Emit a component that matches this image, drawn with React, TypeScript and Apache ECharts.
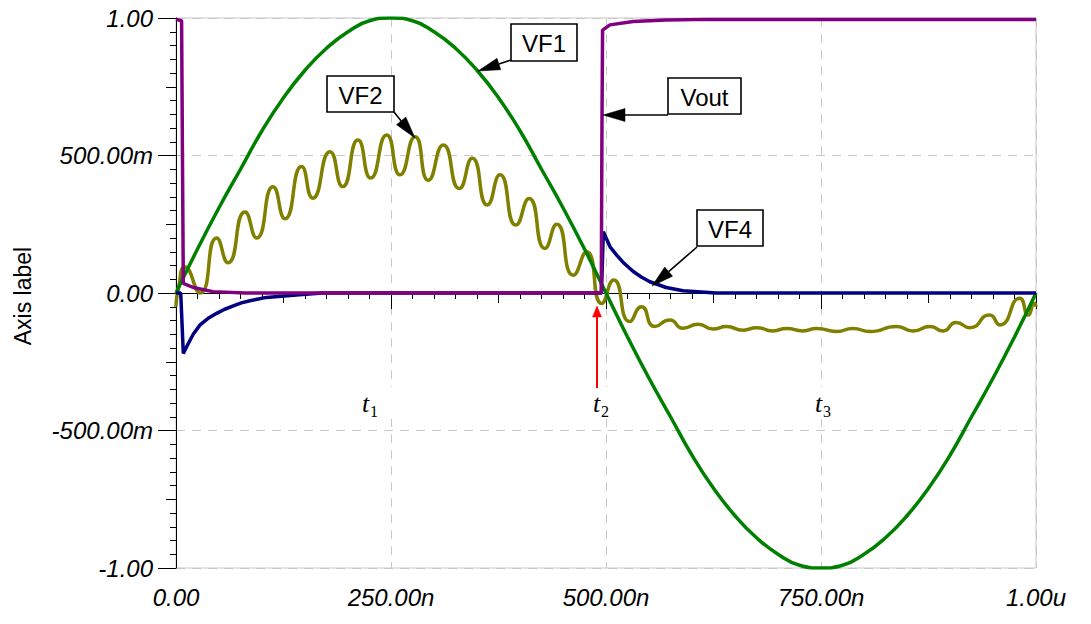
import React, { useEffect, useRef } from "react";
import * as echarts from "echarts";

// ---- tick labels ----
const xTickLabels = ["0.00", "250.00n", "500.00n", "750.00n", "1.00u"];
const yTickLabels = ["-1.00", "-500.00m", "0.00", "500.00m", "1.00"];

// ---- series data (time in ns, value in V) ----
const vf1Time = [0, 25, 50, 75, 100, 125, 150, 175, 200, 225, 250, 275, 300, 325, 350, 375, 400, 425, 450, 475, 500, 525, 550, 575, 600, 625, 650, 675, 700, 725, 750, 775, 800, 825, 850, 875, 900, 925, 950, 975, 1000];
const vf1Values = [0, 0.16, 0.31, 0.45, 0.59, 0.71, 0.81, 0.89, 0.95, 0.99, 1.0, 0.99, 0.95, 0.89, 0.81, 0.71, 0.59, 0.45, 0.31, 0.16, 0.0, -0.16, -0.31, -0.45, -0.59, -0.71, -0.81, -0.89, -0.95, -0.99, -1.0, -0.99, -0.95, -0.89, -0.81, -0.71, -0.59, -0.45, -0.31, -0.16, 0.0];

const vf2Time = [0, 3, 10.5, 28, 47.3, 60.5, 80.2, 93.8, 112.8, 126.7, 146, 159, 179, 193.8, 211.6, 226.4, 245, 260.5, 278, 293.4, 310.8, 329.4, 344.5, 362, 376.7, 395.3, 410.5, 429, 442.7, 462, 477.5, 495, 509, 527.6, 541.2, 556.7, 574, 589.6, 607, 624.5, 640, 659.5, 675, 694, 710, 729, 745, 768, 787, 807, 838, 857, 877, 892, 907, 923, 946, 958, 981, 991, 998, 1000];
const vf2Values = [-0.05, 0.02, 0.095, 0.0, 0.2, 0.11, 0.295, 0.2, 0.386, 0.27, 0.46, 0.345, 0.514, 0.387, 0.556, 0.418, 0.575, 0.43, 0.568, 0.41, 0.538, 0.38, 0.49, 0.32, 0.43, 0.247, 0.344, 0.162, 0.25, 0.065, 0.15, -0.038, 0.047, -0.104, -0.05, -0.122, -0.098, -0.128, -0.114, -0.131, -0.122, -0.135, -0.126, -0.138, -0.129, -0.138, -0.129, -0.14, -0.129, -0.14, -0.122, -0.138, -0.122, -0.138, -0.107, -0.126, -0.08, -0.116, -0.019, -0.08, -0.037, -0.05];

const vf4Time = [0, 5.5, 8.5, 12.4, 20, 28, 37, 47.3, 56, 66.6, 76, 86, 105, 140, 170, 494.7, 496.9, 504.7, 512.4, 521, 531.7, 541, 551, 570, 589.6, 628, 1000];
const vf4Values = [0, 0, -0.22, -0.195, -0.15, -0.116, -0.093, -0.074, -0.06, -0.047, -0.036, -0.028, -0.016, -0.007, 0, 0, 0.223, 0.168, 0.138, 0.108, 0.078, 0.058, 0.041, 0.02, 0.008, 0, 0];

const voutTime = [0, 6.5, 7.5, 8.5, 20, 43, 80, 494.5, 495.3, 496, 504.6, 531.5, 570, 620, 1000];
const voutValues = [0.995, 0.99, 0.5, 0.035, 0.02, 0.005, 0, 0, 0.6, 0.956, 0.975, 0.987, 0.993, 0.995, 0.995];

const seriesNames = ["VF2", "VF1", "VF4", "Vout"];
const seriesColors = ["#808000", "#008000", "#000080", "#800080"];

const zip = (t: number[], v: number[]) => t.map((x, i) => [x, v[i]]);

function arrow(x1: number, y1: number, x2: number, y2: number, color: string, lw: number, headLen: number, headW: number) {
  const dx = x2 - x1, dy = y2 - y1;
  const L = Math.hypot(dx, dy);
  const ux = dx / L, uy = dy / L;
  const bx = x2 - ux * headLen, by = y2 - uy * headLen;
  const px = -uy, py = ux;
  return [
    { type: "line", shape: { x1, y1, x2: bx, y2: by }, style: { stroke: color, lineWidth: lw }, z: 100 },
    {
      type: "polygon",
      shape: { points: [[x2, y2], [bx + (px * headW) / 2, by + (py * headW) / 2], [bx - (px * headW) / 2, by - (py * headW) / 2]] },
      style: { fill: color, stroke: color, lineWidth: 0.5 },
      z: 100,
    },
  ];
}

function callout(label: string, x: number, y: number, w: number, h: number) {
  return [
    { type: "rect", shape: { x, y, width: w, height: h }, style: { fill: "#fff", stroke: "#000", lineWidth: 1.6 }, z: 100 },
    {
      type: "text",
      x: x + w / 2,
      y: y + h / 2 + 1,
      style: { text: label, font: "24px 'Liberation Sans', Arial, sans-serif", fill: "#000", align: "center", verticalAlign: "middle" },
      z: 101,
    },
  ];
}

function tLabel(sub: string, x: number) {
  return [
    { type: "rect", shape: { x: x - 14, y: 387, width: 46, height: 32 }, style: { fill: "#fff" }, z: 50 },
    {
      type: "text",
      x,
      y: 403,
      style: { text: "t", font: "italic 26px 'Liberation Serif', 'Times New Roman', serif", fill: "#000", align: "left", verticalAlign: "middle" },
      z: 101,
    },
    {
      type: "text",
      x: x + 8,
      y: 411.5,
      style: { text: sub, font: "16px 'Liberation Serif', 'Times New Roman', serif", fill: "#000", align: "left", verticalAlign: "middle" },
      z: 101,
    },
  ];
}

export default function App() {
  const ref = useRef<HTMLDivElement>(null);
  useEffect(() => {
    if (!ref.current) return;
    const chart = echarts.init(ref.current, null, { renderer: "svg" });
    const tickFont = "'Liberation Sans', Arial, sans-serif";
    const dataSets = [zip(vf2Time, vf2Values), zip(vf1Time, vf1Values), zip(vf4Time, vf4Values), zip(voutTime, voutValues)];
    const smooths = [0.6, true, false, false];
    const option: any = {
      animation: false,
      backgroundColor: "#fff",
      grid: { left: 176, right: 55, top: 18, bottom: 56, show: true, borderColor: "#c8c8c8", borderWidth: 1 },
      xAxis: [
        {
          type: "value",
          min: 0,
          max: 1000,
          interval: 250,
          position: "bottom",
          axisLine: { show: true, lineStyle: { color: "#000", width: 1 } },
          axisTick: { show: true, length: 16, lineStyle: { color: "#000" } },
          minorTick: { show: true, splitNumber: 10, length: 6, lineStyle: { color: "#000" } },
          axisLabel: {
            margin: 17,
            color: "#000",
            fontSize: 24,
            fontStyle: "italic",
            fontFamily: tickFont,
            formatter: (v: number) => xTickLabels[Math.round(v / 250)],
          },
          splitLine: { show: true, lineStyle: { color: "#c8c8c8", type: [9, 7], width: 1 } },
        },
        {
          type: "value",
          min: 0,
          max: 1000,
          interval: 125,
          position: "bottom",
          axisLine: { show: false },
          axisTick: { show: true, length: 10, lineStyle: { color: "#000" } },
          axisLabel: { show: false },
          splitLine: { show: false },
        },
      ],
      yAxis: [
        {
          type: "value",
          min: -1,
          max: 1,
          interval: 0.5,
          position: "left",
          axisLine: { show: true, lineStyle: { color: "#000", width: 1 } },
          axisTick: { show: true, length: 18, lineStyle: { color: "#000" } },
          minorTick: { show: true, splitNumber: 10, length: 6, lineStyle: { color: "#000" } },
          axisLabel: {
            margin: 23,
            color: "#000",
            fontSize: 24,
            fontStyle: "italic",
            fontFamily: tickFont,
            formatter: (v: number) => yTickLabels[Math.round((v + 1) / 0.5)],
          },
          splitLine: { show: true, lineStyle: { color: "#c8c8c8", type: [9, 7], width: 1 } },
        },
        {
          type: "value",
          min: -1,
          max: 1,
          interval: 0.25,
          position: "left",
          axisLine: { show: false },
          axisTick: { show: true, length: 10, lineStyle: { color: "#000" } },
          axisLabel: { show: false },
          splitLine: { show: false },
        },
      ],
      series: seriesNames.map((name, i) => ({
        name,
        type: "line",
        xAxisIndex: 0,
        yAxisIndex: 0,
        data: dataSets[i],
        showSymbol: false,
        symbol: "none",
        smooth: smooths[i],
        lineStyle: { color: seriesColors[i], width: 3.5 },
        z: 10 + i,
      })),
      graphic: [
        {
          type: "text",
          x: 23,
          y: 296,
          rotation: Math.PI / 2,
          style: { text: "Axis label", font: "23px 'Liberation Sans', Arial, sans-serif", fill: "#000", align: "center", verticalAlign: "middle" },
        },
        ...tLabel("1", 362),
        ...tLabel("2", 593),
        ...tLabel("3", 815),
        ...arrow(597, 388, 597, 306, "#ff0000", 2, 11, 9),
        ...callout("VF1", 511, 24, 66, 37),
        ...arrow(511, 60, 478, 71, "#000", 1.6, 22, 12),
        ...callout("VF2", 327, 76, 67, 36),
        ...arrow(394, 112, 415, 138, "#000", 1.6, 22, 12),
        ...callout("Vout", 668, 78, 73, 36),
        ...arrow(668, 115, 603, 115, "#000", 1.6, 22, 13),
        ...callout("VF4", 697, 210, 66, 36),
        ...arrow(697, 247, 652, 286, "#000", 1.6, 22, 12),
      ],
    };
    chart.setOption(option);
    return () => chart.dispose();
  }, []);
  return <div ref={ref} style={{ position: "fixed", left: 0, top: 0, width: 1091, height: 624, background: "#fff" }} />;
}
